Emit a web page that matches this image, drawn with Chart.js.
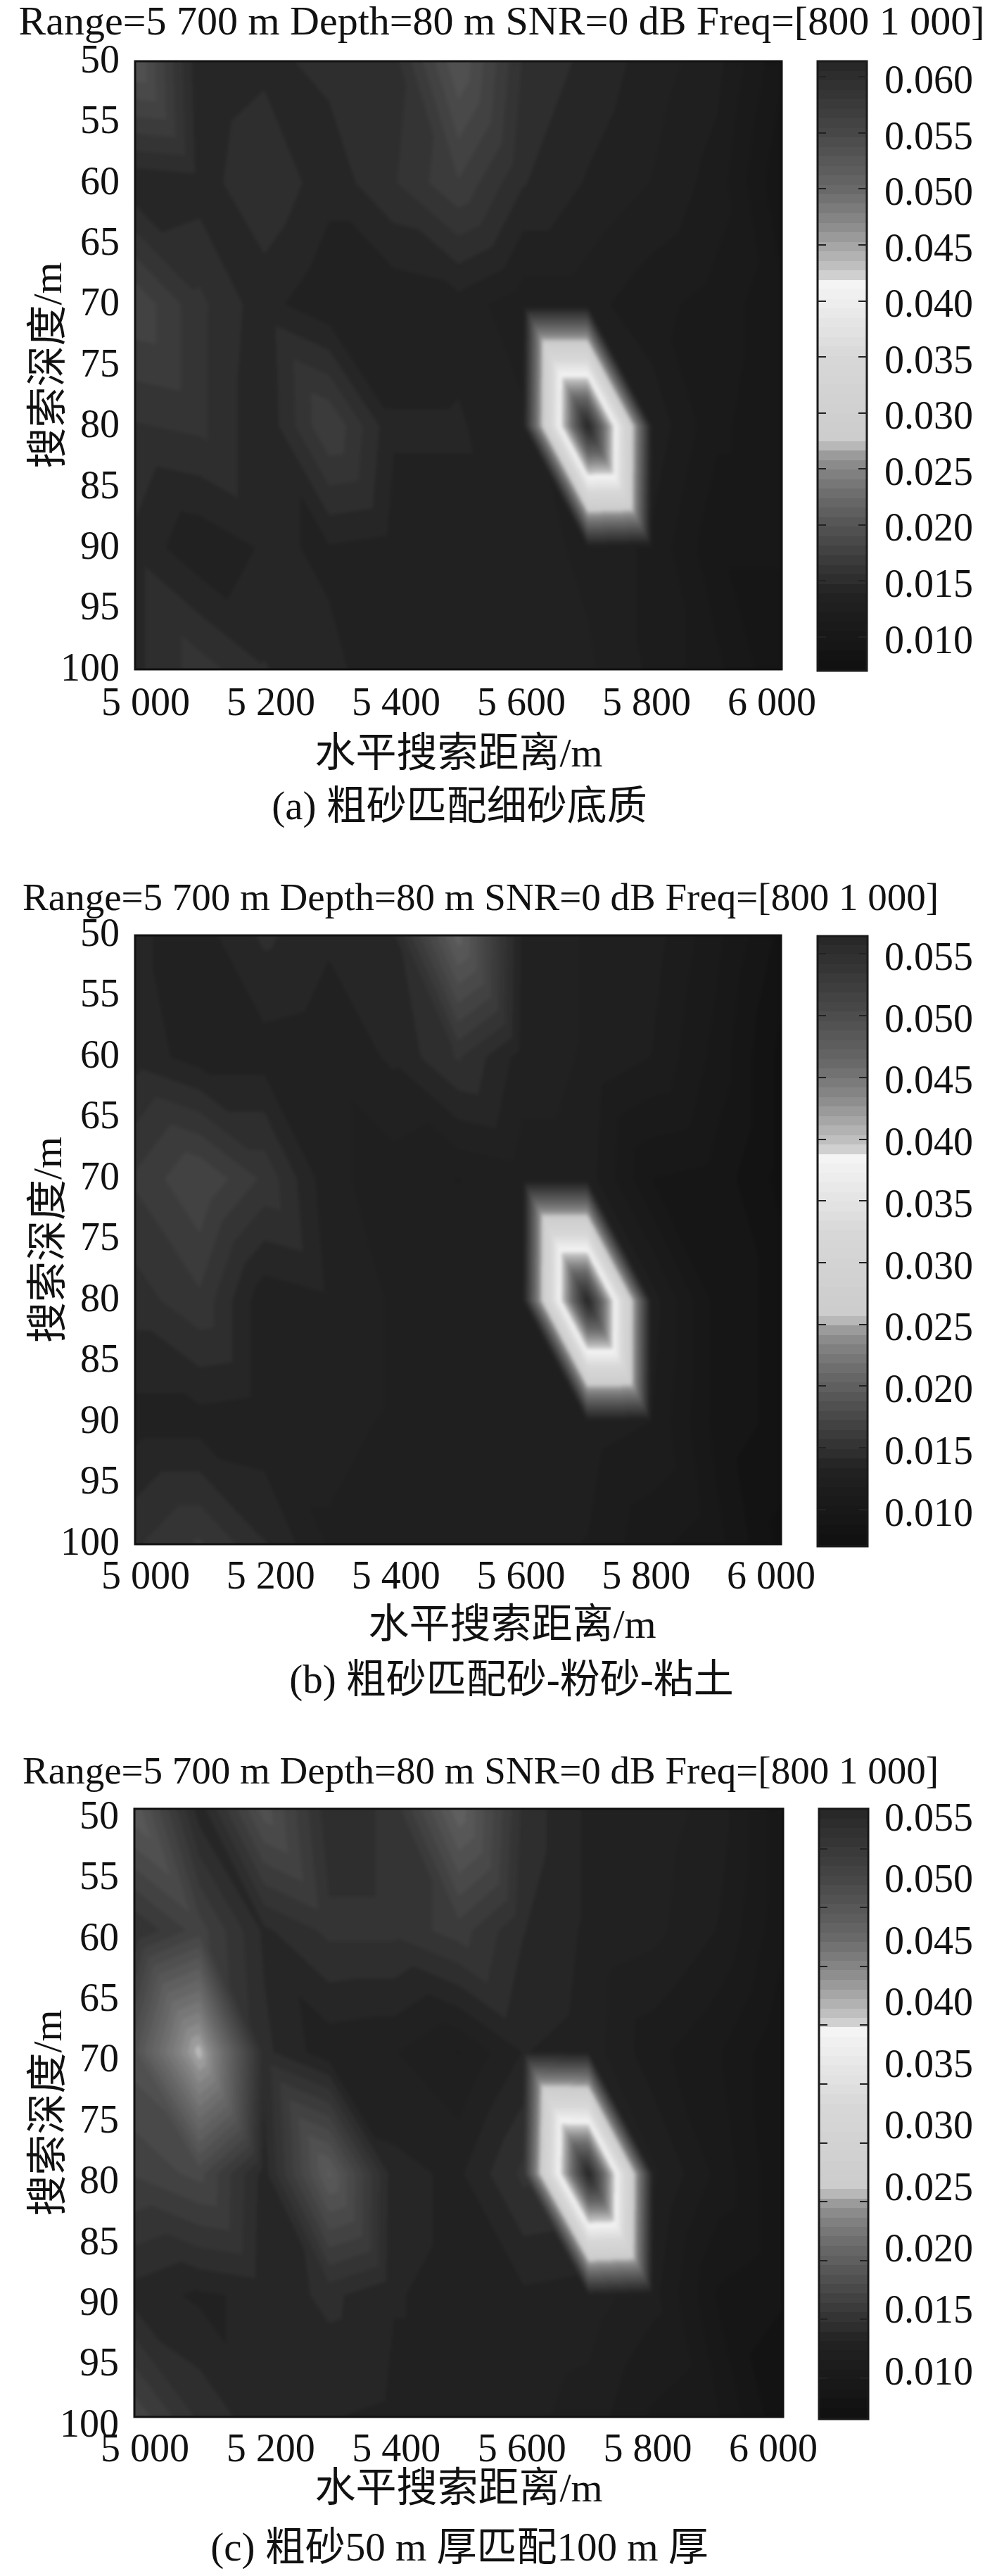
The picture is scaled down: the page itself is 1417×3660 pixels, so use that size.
<!DOCTYPE html>
<html>
<head>
<meta charset="utf-8">
<title>Range=5 700 m Depth=80 m</title>
<script src="https://cdn.jsdelivr.net/npm/chart.js@4/dist/chart.umd.min.js"></script>
<style>
body { margin:0; background:#fff; width:1417px; height:3660px; position:relative; overflow:hidden; }
canvas { position:absolute; left:0; }
.t { position:absolute; transform:translate(-50%,-50%); white-space:nowrap; color:#111; line-height:1;
     font-family:"Liberation Serif","Noto Sans CJK SC",serif; }
</style>
</head>
<body>
<script>
// grid
var rangeX = [5000,5100,5200,5300,5400,5500,5600,5700,5800,5900,6000];
var depthY = [50,60,70,80,90,100];

var valuesA = [
  [.0200,.0140,.0145,.0150,.0152,.0198,.0155,.0145,.0135,.0125,.0098],
  [.0140,.0143,.0155,.0142,.0155,.0172,.0148,.0138,.0130,.0118,.0089],
  [.0180,.0158,.0142,.0132,.0132,.0135,.0125,.0125,.0116,.0110,.0098],
  [.0155,.0158,.0140,.0173,.0140,.0140,.0132,.0614,.0128,.0107,.0098],
  [.0145,.0132,.0140,.0138,.0135,.0135,.0135,.0128,.0120,.0098,.0098],
  [.0145,.0160,.0148,.0140,.0136,.0135,.0135,.0132,.0120,.0107,.0089]
];
var valuesB = [
  [.0135,.0130,.0143,.0135,.0140,.0200,.0132,.0125,.0122,.0105,.0085],
  [.0138,.0130,.0130,.0128,.0135,.0150,.0130,.0125,.0118,.0100,.0077],
  [.0158,.0172,.0155,.0128,.0122,.0118,.0122,.0122,.0095,.0092,.0077],
  [.0145,.0155,.0128,.0132,.0125,.0122,.0125,.0565,.0122,.0092,.0085],
  [.0130,.0130,.0128,.0128,.0125,.0122,.0122,.0122,.0118,.0092,.0085],
  [.0148,.0158,.0142,.0125,.0122,.0122,.0120,.0118,.0105,.0098,.0077]
];
var valuesC = [
  [.0195,.0135,.0185,.0142,.0150,.0203,.0145,.0130,.0128,.0120,.0093],
  [.0148,.0168,.0138,.0150,.0150,.0160,.0140,.0130,.0126,.0115,.0093],
  [.0185,.0258,.0142,.0126,.0124,.0115,.0132,.0128,.0110,.0100,.0084],
  [.0165,.0175,.0136,.0198,.0134,.0130,.0150,.0584,.0125,.0105,.0084],
  [.0136,.0130,.0134,.0142,.0132,.0130,.0130,.0128,.0118,.0090,.0084],
  [.0170,.0146,.0134,.0132,.0130,.0130,.0126,.0120,.0106,.0100,.0076]
];

var xTicks = [5000,5200,5400,5600,5800,6000];
var yTicks = [50,55,60,65,70,75,80,85,90,95,100];
var cbTicksA = [.010,.015,.020,.025,.030,.035,.040,.045,.050,.055,.060];
var cbTicksB = [.010,.015,.020,.025,.030,.035,.040,.045,.050,.055];

var titleText = 'Range=5 700 m Depth=80 m SNR=0 dB Freq=[800 1 000]';
var xTitle = '水平搜索距离/m';
var yTitle = '搜索深度/m';
var captions = ['(a) 粗砂匹配细砂底质','(b) 粗砂匹配砂-粉砂-粘土','(c) 粗砂50 m 厚匹配100 m 厚'];

// gray version of jet as it came out in the print: [t, gray]
var grayStops = [[0,16],[.125,34],[.145,44],[.237,85],[.274,102],[.33,133],[.357,160],[.376,204],[.42,208],[.514,216],
                 [.606,238],[.633,244],[.652,200],[.698,164],[.735,136],[.79,104],[.88,72],[1,38]];

function grayAt(t){
  // 64 level colormap, the steps show up as bands
  var lv = Math.min(63, Math.max(0, Math.floor(t*64)));
  var q = (lv+.5)/64;
  for (var i=1;i<grayStops.length;i++){
    if (q<=grayStops[i][0]){
      var a=grayStops[i-1], b=grayStops[i];
      return a[1]+(b[1]-a[1])*(q-a[0])/(b[0]-a[0]);
    }
  }
  return 38;
}

function text(str,x,y,size){
  var d=document.createElement('div');
  d.className='t'; d.textContent=str;
  d.style.left=x+'px'; d.style.top=y+'px'; d.style.fontSize=size+'px';
  document.body.appendChild(d);
}

function noPad(s){ s.paddingLeft=0; s.paddingRight=0; s.paddingTop=0; s.paddingBottom=0; }

// gouraud shading over the triangles of the grid, diagonal going top left to bottom right
var heatPlugin = {
  id:'heat',
  beforeDatasetsDraw:function(chart){
    var a=chart.chartArea, xs=chart.scales.x, ys=chart.scales.y, cb=chart.scales.cb, ctx=chart.ctx;
    var pts=chart.data.datasets[0].data;
    var nx=rangeX.length, ny=depthY.length;
    var w=Math.round(a.right-a.left), h=Math.round(a.bottom-a.top);
    var off=document.createElement('canvas'); off.width=w; off.height=h;
    var oc=off.getContext('2d'), img=oc.createImageData(w,h);
    var lo=cb.min, hi=cb.max;
    for (var py=0;py<h;py++){
      var dv=ys.getValueForPixel(a.top+py+.5);
      var j=Math.min(ny-2,Math.max(0,Math.floor((dv-depthY[0])/(depthY[1]-depthY[0]))));
      var fy=(dv-depthY[j])/(depthY[j+1]-depthY[j]);
      for (var px=0;px<w;px++){
        var rv=xs.getValueForPixel(a.left+px+.5);
        var i=Math.min(nx-2,Math.max(0,Math.floor((rv-rangeX[0])/(rangeX[1]-rangeX[0]))));
        var fx=(rv-rangeX[i])/(rangeX[i+1]-rangeX[i]);
        var v00=pts[j*nx+i].v, v10=pts[j*nx+i+1].v, v01=pts[(j+1)*nx+i].v, v11=pts[(j+1)*nx+i+1].v;
        var v = fx>fy ? v00+fx*(v10-v00)+fy*(v11-v10) : v00+fy*(v01-v00)+fx*(v11-v01);
        var g=grayAt((v-lo)/(hi-lo));
        var k=(py*w+px)*4;
        img.data[k]=img.data[k+1]=img.data[k+2]=g; img.data[k+3]=255;
      }
    }
    oc.putImageData(img,0,0);
    ctx.save();
    ctx.beginPath(); ctx.rect(a.left,a.top,a.right-a.left,a.bottom-a.top); ctx.clip();
    ctx.drawImage(off,a.left,a.top);
    ctx.filter='blur(2.5px)';
    ctx.drawImage(off,a.left,a.top);
    ctx.restore();
    ctx.save();
    ctx.strokeStyle='#111'; ctx.lineWidth=3;
    ctx.strokeRect(a.left,a.top,a.right-a.left,a.bottom-a.top);
    ctx.restore();
  },
  afterDraw:function(chart,args,opts){
    // colour bar next to the plot
    var cb=chart.scales.cb, ctx=chart.ctx;
    var left=opts.barLeft, right=opts.barRight, top=opts.barTop, bottom=opts.barBottom;
    ctx.save();
    for (var y=top;y<bottom;y++){
      var t=(cb.getValueForPixel(y+.5)-cb.min)/(cb.max-cb.min);
      var g=Math.round(grayAt(t));
      ctx.fillStyle='rgb('+g+','+g+','+g+')';
      ctx.fillRect(left,y,right-left,1);
    }
    ctx.strokeStyle='#1a1a1a'; ctx.lineWidth=3;
    ctx.strokeRect(left,top,right-left,bottom-top);
    ctx.lineWidth=2; ctx.strokeStyle='#222';
    opts.marks.forEach(function(m){
      var y=Math.round(cb.getPixelForValue(m));
      if (y<=top+2||y>=bottom-2) return;
      ctx.beginPath();
      ctx.moveTo(left,y); ctx.lineTo(left+12,y);
      ctx.moveTo(right-12,y); ctx.lineTo(right,y);
      ctx.stroke();
    });
    ctx.restore();
  }
};

function makePanel(cfg){
  var H=cfg.canvasBottom-cfg.canvasTop;
  var c=document.createElement('canvas');
  c.width=1417; c.height=H; c.style.top=cfg.canvasTop+'px';
  document.body.appendChild(c);

  var pts=[];
  depthY.forEach(function(d,j){
    rangeX.forEach(function(r,i){ pts.push({x:r,y:d,v:cfg.values[j][i]}); });
  });

  var font={family:'"Liberation Serif","Noto Sans CJK SC",serif',size:56};
  new Chart(c,{
    type:'scatter',
    data:{datasets:[{data:pts,pointRadius:0,showLine:false,xAxisID:'x',yAxisID:'y'}]},
    plugins:[heatPlugin],
    options:{
      responsive:false,animation:false,
      layout:{padding:{top:cfg.plotTop-cfg.canvasTop,left:0,right:0,bottom:0}},
      plugins:{legend:{display:false},tooltip:{enabled:false},title:{display:false},
        heat:{barLeft:cfg.barLeft,barRight:cfg.barRight,barTop:cfg.barTop-cfg.canvasTop,barBottom:cfg.barBottom-cfg.canvasTop,marks:cfg.marks}},
      scales:{
        x:{type:'linear',display:false,min:5000,max:6000},
        // printed labels do not sit exactly on the plot ticks, so they get their own axis
        xl:{type:'linear',position:'bottom',min:cfg.xl[0],max:cfg.xl[1],
          afterBuildTicks:function(s){s.ticks=xTicks.map(function(v){return {value:v};});},
          afterFit:function(s){s.height=cfg.canvasBottom-cfg.plotBottom;noPad(s);},
          grid:{display:false,drawTicks:false},border:{display:false},
          ticks:{font:font,color:'#111',padding:cfg.xPad,maxRotation:0,autoSkip:false,
            callback:function(v){return String(v).slice(0,1)+' '+String(v).slice(1);}}},
        y:{type:'linear',position:'left',reverse:true,min:50,max:100,
          afterBuildTicks:function(s){s.ticks=yTicks.map(function(v){return {value:v};});},
          afterFit:function(s){s.width=cfg.plotLeft;noPad(s);},
          grid:{display:false,drawTicks:false},border:{display:false},
          title:{display:true,text:yTitle,color:'#111',font:{family:font.family,size:58},padding:{top:37,bottom:0}},
          ticks:{font:font,color:'#111',padding:22,labelOffset:cfg.yOff,autoSkip:false,callback:function(v){return v;}}},
        cb:{type:'linear',display:false,position:'right',min:cfg.cb[0],max:cfg.cb[1]},
        cbl:{type:'linear',position:'right',min:cfg.cbl[0],max:cfg.cbl[1],
          afterBuildTicks:function(s){s.ticks=cfg.cbTicks.map(function(v){return {value:v};});},
          afterFit:function(s){s.width=1417-cfg.plotRight;noPad(s);},
          grid:{display:false,drawTicks:false},border:{display:false},
          ticks:{font:font,color:'#111',padding:1257-cfg.plotRight,labelOffset:8,autoSkip:false,callback:function(v){return v.toFixed(3);}}}
      }
    }
  });

  text(titleText,cfg.titleX,cfg.titleY,cfg.titleSize);
  text(xTitle,cfg.xTitleX,cfg.xTitleY,58);
  text(cfg.caption,cfg.capX,cfg.capY,57);
}

makePanel({values:valuesA,caption:captions[0],cbTicks:cbTicksA,marks:cbTicksA,
  canvasTop:0,canvasBottom:1060,plotTop:87,plotBottom:951,plotLeft:192,plotRight:1111,
  barLeft:1162,barRight:1232,barTop:87,barBottom:953,
  xl:[4983.1,6015.7],xPad:17,yOff:1,
  cb:[.0071,.0614],cbl:[.0071,.0614],
  titleX:713,titleY:30,titleSize:58,xTitleX:652,xTitleY:1070,capX:653,capY:1144});

makePanel({values:valuesB,caption:captions[1],cbTicks:cbTicksB,marks:cbTicksB,
  canvasTop:1250,canvasBottom:2290,plotTop:1329,plotBottom:2194,plotLeft:192,plotRight:1110,
  barLeft:1162,barRight:1233,barTop:1330,barBottom:2197,
  xl:[4983.1,6015.7],xPad:15,yOff:0,
  cb:[.0072,.0565],cbl:[.0072,.0565],
  titleX:683,titleY:1274,titleSize:55,xTitleX:728,xTitleY:2308,capX:727,capY:2385});

makePanel({values:valuesC,caption:captions[2],cbTicks:cbTicksB,marks:cbTicksB,
  canvasTop:2490,canvasBottom:3530,plotTop:2570,plotBottom:3434,plotLeft:191,plotRight:1113,
  barLeft:1164,barRight:1234,barTop:2570,barBottom:3437,
  xl:[4983.1,6015.7],xPad:15,yOff:13,
  cb:[.0067,.0584],cbl:[.00607,.05546],
  titleX:683,titleY:2515,titleSize:55,xTitleX:652,xTitleY:3535,capX:653,capY:3618});
</script>
</body>
</html>
